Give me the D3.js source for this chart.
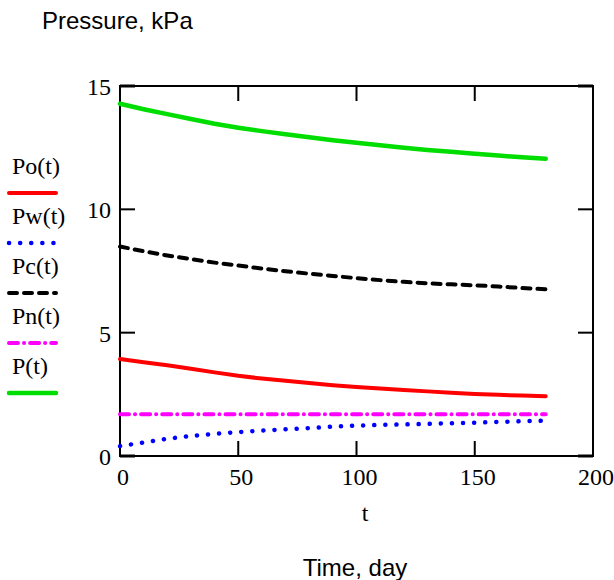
<!DOCTYPE html>
<html>
<head>
<meta charset="utf-8">
<script src="https://cdn.jsdelivr.net/npm/d3@7"></script>
<style>
  body { margin: 0; background: #fff; }
  text { font-family: "Liberation Serif", "Times New Roman", serif; font-size: 24px; fill: #000; }
  .sans { font-family: "Liberation Sans", Arial, sans-serif; font-size: 24px; }
</style>
</head>
<body>
<script>
// pressure curves, every 10 days
var days = [0, 10, 20, 30, 40, 50, 60, 70, 80, 90, 100, 110, 120, 130, 140, 150, 160, 170, 180];
var pO = [3.93, 3.80, 3.68, 3.54, 3.39, 3.25, 3.14, 3.05, 2.96, 2.87, 2.80, 2.74, 2.68, 2.62, 2.56, 2.51, 2.48, 2.45, 2.42];
var pW = [0.40, 0.55, 0.70, 0.81, 0.90, 0.97, 1.03, 1.08, 1.13, 1.19, 1.23, 1.26, 1.28, 1.30, 1.33, 1.35, 1.38, 1.41, 1.43];
var pC = [8.49, 8.30, 8.13, 7.98, 7.84, 7.72, 7.60, 7.49, 7.39, 7.30, 7.21, 7.13, 7.06, 7.00, 6.96, 6.92, 6.87, 6.81, 6.76];
var pN = [1.69, 1.69, 1.69, 1.69, 1.69, 1.69, 1.69, 1.69, 1.69, 1.69, 1.69, 1.69, 1.69, 1.69, 1.69, 1.69, 1.69, 1.69, 1.69];
var pT = [14.28, 14.06, 13.86, 13.66, 13.47, 13.31, 13.17, 13.04, 12.92, 12.80, 12.70, 12.60, 12.50, 12.41, 12.33, 12.25, 12.18, 12.11, 12.05];

var seriesNames = ["Po(t)", "Pw(t)", "Pc(t)", "Pn(t)", "P(t)"];
var xTicks = [0, 50, 100, 150, 200];
var yTicks = [0, 5, 10, 15];

(function() {
  var width = 614, height = 580;
  var left = 120, right = 593, top = 86, bottom = 456;

  var svg = d3.select("body").append("svg")
      .attr("width", width)
      .attr("height", height);

  var x = d3.scaleLinear().domain([0, 200]).range([left, right]);
  var y = d3.scaleLinear().domain([0, 15]).range([bottom, top]);

  // line looks: colour, width, dash
  var looks = [
    {color: "#ff0000", w: 4,   dash: null},
    {color: "#0000ff", w: 4.5, dash: "0.1 11"},
    {color: "#000000", w: 4,   dash: "8 7"},
    {color: "#ff00ff", w: 4,   dash: "9 6 0.1 6"},
    {color: "#00dd00", w: 4.5, dash: null}
  ];
  var allSeries = [pO, pW, pC, pN, pT];

  // frame
  svg.append("rect")
      .attr("x", left).attr("y", top)
      .attr("width", right - left).attr("height", bottom - top)
      .attr("fill", "none").attr("stroke", "#000").attr("stroke-width", 2);

  // inward ticks on all four sides
  var tl = 15;
  xTicks.slice(1, -1).forEach(function(t) {
    svg.append("line").attr("x1", x(t)).attr("x2", x(t))
        .attr("y1", bottom).attr("y2", bottom - tl)
        .attr("stroke", "#000").attr("stroke-width", 2);
    svg.append("line").attr("x1", x(t)).attr("x2", x(t))
        .attr("y1", top).attr("y2", top + tl)
        .attr("stroke", "#000").attr("stroke-width", 2);
  });
  yTicks.slice(1, -1).forEach(function(t) {
    svg.append("line").attr("x1", left).attr("x2", left + tl)
        .attr("y1", y(t)).attr("y2", y(t))
        .attr("stroke", "#000").attr("stroke-width", 2);
    svg.append("line").attr("x1", right).attr("x2", right - tl)
        .attr("y1", y(t)).attr("y2", y(t))
        .attr("stroke", "#000").attr("stroke-width", 2);
  });
  // the little corner bits
  [[left, top, 1], [right, top, -1], [left, bottom, 1], [right, bottom, -1]].forEach(function(c) {
    svg.append("line").attr("x1", c[0]).attr("x2", c[0] + c[2] * tl)
        .attr("y1", c[1]).attr("y2", c[1])
        .attr("stroke", "#000").attr("stroke-width", 3);
  });

  // tick labels
  svg.selectAll(".xl").data(xTicks).enter().append("text")
      .attr("x", function(d) { return x(d) + 3; })
      .attr("y", bottom + 29)
      .attr("text-anchor", "middle")
      .text(function(d) { return d; });
  svg.selectAll(".yl").data(yTicks).enter().append("text")
      .attr("x", left - 9)
      .attr("y", function(d) { return y(d) + 9; })
      .attr("text-anchor", "end")
      .text(function(d) { return d; });

  // curves
  var line = d3.line()
      .x(function(d, i) { return x(days[i]); })
      .y(function(d) { return y(d); });

  allSeries.forEach(function(vals, i) {
    svg.append("path")
        .attr("d", line(vals))
        .attr("fill", "none")
        .attr("stroke", looks[i].color)
        .attr("stroke-width", looks[i].w)
        .attr("stroke-linecap", "round")
        .attr("stroke-dasharray", looks[i].dash);
  });

  // legend down the left side
  seriesNames.forEach(function(name, i) {
    var ly = 174 + i * 50;
    svg.append("text").attr("x", 12).attr("y", ly).text(name);
    svg.append("line")
        .attr("x1", 9).attr("x2", 56)
        .attr("y1", ly + 19).attr("y2", ly + 19)
        .attr("stroke", looks[i].color)
        .attr("stroke-width", looks[i].w)
        .attr("stroke-linecap", "round")
        .attr("stroke-dasharray", looks[i].dash);
  });

  // axis titles
  svg.append("text").attr("class", "sans").attr("x", 42).attr("y", 29).text("Pressure, kPa");
  svg.append("text").attr("x", 365).attr("y", 521).attr("text-anchor", "middle").text("t");
  svg.append("text").attr("class", "sans").attr("x", 355).attr("y", 576)
      .attr("text-anchor", "middle").text("Time, day");
})();
</script>
</body>
</html>
